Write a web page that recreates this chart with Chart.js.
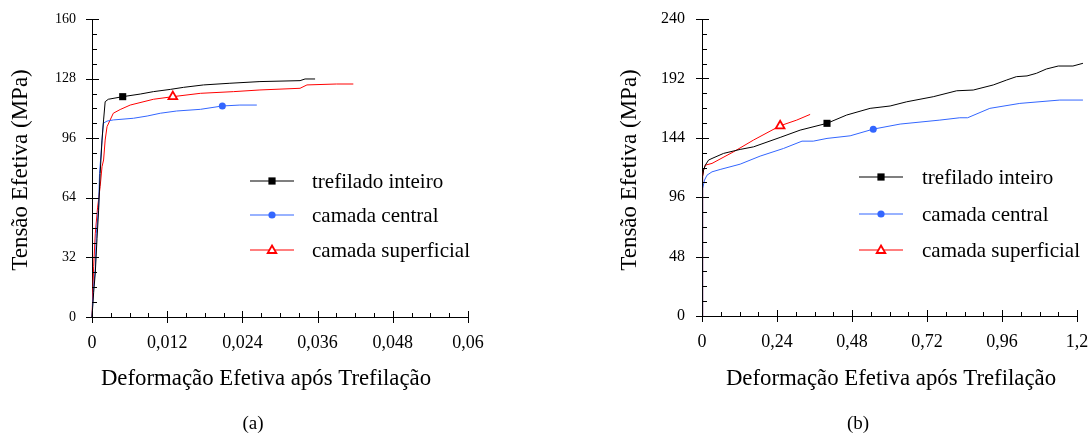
<!DOCTYPE html>
<html>
<head>
<meta charset="utf-8">
<script src="https://cdn.jsdelivr.net/npm/chart.js@4.4.1/dist/chart.umd.min.js"></script>
<style>
  html, body { margin: 0; padding: 0; background: #fff; }
  #wrap { position: relative; width: 1089px; height: 436px; overflow: hidden;
          font-family: "Liberation Serif", serif; }
  canvas { position: absolute; top: 0; }
  #cvA { left: 0; }
  #cvB { left: 545px; }
  .cap { position: absolute; top: 411px; font-family: "Liberation Serif", serif; font-size: 19px;
         color: #000; transform: translateX(-50%); line-height: 24px; }
</style>
</head>
<body>
<div id="wrap">
  <canvas id="cvA" width="545" height="436"></canvas>
  <canvas id="cvB" width="544" height="436"></canvas>
  <div class="cap" style="left:253px">(a)</div>
  <div class="cap" style="left:858px">(b)</div>
</div>
<script>
// ---- series names and axis texts ----
const seriesNames = ['trefilado inteiro', 'camada central', 'camada superficial'];
const yTitleText = 'Tensão Efetiva (MPa)';
const xTitleText = 'Deformação Efetiva após Trefilação';

// ---- panel (a): effective stress vs. effective strain ----
const aWholeX = [0, 0.00026, 0.00053, 0.0008, 0.00105, 0.0013, 0.0016, 0.00185, 0.0021, 0.0026, 0.0049, 0.0077, 0.0098, 0.0125, 0.0146, 0.0178, 0.022, 0.0268, 0.0332, 0.034, 0.0356];
const aWholeY = [0, 13, 24, 42, 57, 77, 95, 105.8, 115.6, 116.9, 118.3, 119.7, 121, 122.2, 123.3, 124.6, 125.5, 126.4, 126.9, 127.8, 127.8];
const aCoreX  = [0, 0.00026, 0.00053, 0.00069, 0.00105, 0.0012, 0.0016, 0.0018, 0.0024, 0.0034, 0.0066, 0.0088, 0.0109, 0.0135, 0.0173, 0.0208, 0.0236, 0.0263];
const aCoreY  = [0, 16.3, 25.8, 45, 59, 77, 95, 104, 105.2, 105.8, 106.7, 107.9, 109.4, 110.6, 111.5, 113.3, 113.8, 113.8];
const aSurfX  = [0, 0.00026, 0.00053, 0.0009, 0.0013, 0.0016, 0.00185, 0.0021, 0.0024, 0.0034, 0.0045, 0.0061, 0.0098, 0.0129, 0.0173, 0.0226, 0.0268, 0.0332, 0.0343, 0.039, 0.0417];
const aSurfY  = [0, 27, 45, 59, 70, 80.7, 84.3, 95, 102.2, 109.4, 111.4, 113.8, 116.9, 118.3, 120.1, 121, 121.9, 122.8, 124.6, 125.1, 125.1];
const aMarkIdx = [10, 15, 13];
const aXTicks = [0, 0.012, 0.024, 0.036, 0.048, 0.06];
const aXTickLabels = ['0', '0,012', '0,024', '0,036', '0,048', '0,06'];
const aYTicks = [0, 32, 64, 96, 128, 160];
const aYTickLabels = ['0', '32', '64', '96', '128', '160'];

// ---- panel (b) ----
const bWholeX = [0, 0.0005, 0.003, 0.005, 0.0106, 0.021, 0.032, 0.069, 0.122, 0.165, 0.25, 0.314, 0.40, 0.463, 0.538, 0.602, 0.655, 0.74, 0.815, 0.868, 0.932, 0.975, 1.006, 1.04, 1.07, 1.102, 1.14, 1.187, 1.219];
const bWholeY = [0, 105, 113, 117.9, 121.9, 126, 127.3, 131.4, 134.6, 136.7, 144.3, 150.2, 155.7, 162.4, 167.8, 169.7, 173.1, 177.2, 182, 182.6, 186.7, 190.7, 193.4, 194, 196.1, 199.6, 202, 202, 204.2];
const bCoreX  = [0, 0.001, 0.003, 0.008, 0.016, 0.032, 0.058, 0.122, 0.186, 0.261, 0.32, 0.356, 0.40, 0.474, 0.548, 0.634, 0.761, 0.825, 0.85, 0.921, 1.017, 1.145, 1.219];
const bCoreY  = [0, 100, 103, 109.8, 113.8, 116.5, 118.4, 122.7, 129.2, 135.4, 141.3, 141.3, 143.5, 145.6, 151, 155.1, 158.3, 160.2, 160.2, 167.8, 171.8, 174.5, 174.5];
const bSurfX  = [0, 0.001, 0.003, 0.005, 0.0106, 0.032, 0.101, 0.165, 0.25, 0.303, 0.346];
const bSurfY  = [0, 100, 112.5, 117.9, 121.9, 123.3, 132.7, 142.2, 153.7, 158.3, 162.9];
const bMarkIdx = [12, 14, 8];
const bXTicks = [0, 0.24, 0.48, 0.72, 0.96, 1.2];
const bXTickLabels = ['0', '0,24', '0,48', '0,72', '0,96', '1,2'];
const bYTicks = [0, 48, 96, 144, 192, 240];
const bYTickLabels = ['0', '48', '96', '144', '192', '240'];

// ---- styling ----
const FONT = '"Liberation Serif", serif';
const colors = ['#000000', '#3366ff', '#ff0000'];
const pointStyles = ['rect', 'circle', 'triangle'];
const pointSizes = [5, 3.5, 5];
const pointFills = ['#000000', '#3366ff', '#ffffff'];
const pointBorders = [0, 0, 1.8];

function pairs(xs, ys) { return xs.map((x, i) => ({ x: x, y: ys[i] })); }

function makeDataset(i, xs, ys, markIdx, clip) {
  return {
    label: seriesNames[i],
    data: pairs(xs, ys),
    borderColor: colors[i],
    borderWidth: 1,
    tension: 0,
    fill: false,
    clip: clip,
    pointStyle: pointStyles[i],
    pointBackgroundColor: pointFills[i],
    pointBorderColor: colors[i],
    pointBorderWidth: pointBorders[i],
    pointRadius: c => (c.dataIndex === markIdx ? pointSizes[i] : 0),
    pointHoverRadius: c => (c.dataIndex === markIdx ? pointSizes[i] : 0)
  };
}

// gap between axis and labels comes from an invisible tick length,
// so the layout does not reserve extra room for it
function linearAxis(tickVals, tickLabels, fontSize, gap, fit) {
  return {
    type: 'linear',
    min: tickVals[0],
    max: tickVals[tickVals.length - 1],
    grid: { display: false, drawTicks: true, tickLength: gap },
    border: { display: true, color: '#000', width: 1 },
    afterBuildTicks: s => { s.ticks = tickVals.map(v => ({ value: v })); },
    ticks: {
      padding: 0, color: '#000', autoSkip: false, maxRotation: 0,
      font: { family: FONT, size: fontSize },
      callback: (v, idx) => tickLabels[idx]
    },
    afterFit: fit
  };
}

// tick marks, in-plot legend and axis titles
const decor = {
  id: 'decor',
  afterDatasetsDraw(chart, args, o) {
    const { ctx, chartArea: a, scales: { x, y } } = chart;
    ctx.save();
    ctx.strokeStyle = '#000';
    ctx.lineWidth = 1;
    ctx.beginPath();
    const xStep = o.xTicks[1] - o.xTicks[0];
    const nx = Math.round((x.max - x.min) / xStep * 4);
    for (let i = 0; i <= nx; i++) {
      const px = Math.round(x.getPixelForValue(x.min + i * xStep / 4)) + 0.5;
      const major = i % 4 === 0;
      ctx.moveTo(px, a.bottom + (major ? 6 : 0));
      ctx.lineTo(px, a.bottom - (major ? 6 : 4));
    }
    const yStep = o.yTicks[1] - o.yTicks[0];
    const ny = Math.round((y.max - y.min) / yStep * 4);
    for (let i = 0; i <= ny; i++) {
      const py = Math.round(y.getPixelForValue(y.min + i * yStep / 4)) + 0.5;
      const major = i % 4 === 0;
      ctx.moveTo(a.left - (major ? 6 : 0), py);
      ctx.lineTo(a.left + (major ? 7 : 5), py);
    }
    ctx.stroke();

    // legend
    const L = o.legend;
    ctx.font = '21px ' + FONT;
    ctx.textBaseline = 'alphabetic';
    ctx.textAlign = 'left';
    seriesNames.forEach((name, i) => {
      const ry = L.rows[i];
      ctx.strokeStyle = colors[i];
      ctx.lineWidth = 1.2;
      ctx.beginPath();
      ctx.moveTo(L.x0, ry);
      ctx.lineTo(L.x0 + 44, ry);
      ctx.stroke();
      const mx = L.x0 + 22;
      if (i === 0) {
        ctx.fillStyle = '#000';
        ctx.fillRect(mx - 3.6, ry - 3.6, 7.2, 7.2);
      } else if (i === 1) {
        ctx.fillStyle = colors[1];
        ctx.beginPath(); ctx.arc(mx, ry, 3.6, 0, Math.PI * 2); ctx.fill();
      } else {
        ctx.fillStyle = '#fff';
        ctx.strokeStyle = colors[2];
        ctx.lineWidth = 1.8;
        ctx.beginPath();
        ctx.moveTo(mx, ry - 4.5);
        ctx.lineTo(mx + 4.3, ry + 3);
        ctx.lineTo(mx - 4.3, ry + 3);
        ctx.closePath();
        ctx.fill(); ctx.stroke();
      }
      ctx.fillStyle = '#000';
      ctx.fillText(name, L.textX, ry + 6.5);
    });

    // axis titles
    ctx.fillStyle = '#000';
    ctx.textAlign = 'center';
    ctx.textBaseline = 'middle';
    ctx.font = o.xTitle.size + 'px ' + FONT;
    ctx.fillText(xTitleText, o.xTitle.x, o.xTitle.y);
    ctx.translate(o.yTitle.x, o.yTitle.y);
    ctx.rotate(-Math.PI / 2);
    ctx.font = o.yTitle.size + 'px ' + FONT;
    ctx.fillText(yTitleText, 0, 0);
    ctx.restore();
  }
};

function build(canvasId, sets, axes, layoutPad, decorOpts) {
  return new Chart(document.getElementById(canvasId), {
    type: 'line',
    data: { datasets: sets },
    options: {
      responsive: false,
      animation: false,
      events: [],
      layout: { padding: layoutPad, autoPadding: false },
      plugins: { legend: { display: false }, tooltip: { enabled: false }, decor: decorOpts },
      scales: axes
    },
    plugins: [decor]
  });
}

function drawAll() {
  // panel (a)
  build('cvA',
    [
      makeDataset(0, aWholeX, aWholeY, aMarkIdx[0], 4),
      makeDataset(1, aCoreX, aCoreY, aMarkIdx[1], 4),
      makeDataset(2, aSurfX, aSurfY, aMarkIdx[2], 4)
    ],
    {
      x: linearAxis(aXTicks, aXTickLabels, 18, 15, s => { s.height = 119; }),
      y: linearAxis(aYTicks, aYTickLabels, 14, 16, s => { s.width = 92; })
    },
    { top: 19, right: 77, left: 0, bottom: 0 },
    {
      xTicks: aXTicks, yTicks: aYTicks,
      legend: { x0: 250, textX: 312, rows: [181, 215, 250] },
      xTitle: { x: 266, y: 379, size: 22.8 },
      yTitle: { x: 21, y: 170, size: 23 }
    }
  );

  // panel (b)
  build('cvB',
    [
      makeDataset(0, bWholeX, bWholeY, bMarkIdx[0], 8),
      makeDataset(1, bCoreX, bCoreY, bMarkIdx[1], 8),
      makeDataset(2, bSurfX, bSurfY, bMarkIdx[2], 8)
    ],
    {
      x: linearAxis(bXTicks, bXTickLabels, 18, 15, s => { s.height = 120; }),
      y: linearAxis(bYTicks, bYTickLabels, 16, 17, s => { s.width = 157; })
    },
    { top: 19, right: 12, left: 0, bottom: 0 },
    {
      xTicks: bXTicks, yTicks: bYTicks,
      legend: { x0: 314, textX: 377, rows: [177, 214, 250] },
      xTitle: { x: 346, y: 379, size: 22.8 },
      yTitle: { x: 85, y: 170, size: 23 }
    }
  );
}

const fontReady = document.fonts && document.fonts.load
  ? Promise.all([document.fonts.load('16px "Liberation Serif"'), document.fonts.ready])
  : Promise.resolve();
fontReady.then(drawAll, drawAll);
</script>
</body>
</html>
